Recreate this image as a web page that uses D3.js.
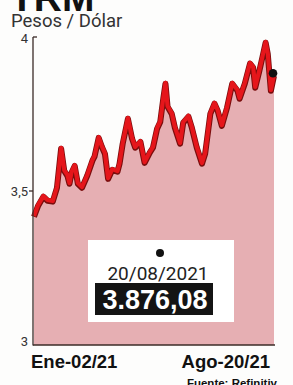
<!DOCTYPE html>
<html><head><meta charset="utf-8">
<script src="https://cdn.jsdelivr.net/npm/d3@7"></script>
<style>html,body{margin:0;padding:0;background:#fdfdfc;overflow:hidden}</style>
</head><body>
<svg id="c" width="293" height="385"></svg>
<script>
const fechas = ["2021-01-02","2021-01-06","2021-01-11","2021-01-15","2021-01-20","2021-01-24","2021-01-28","2021-01-31",
"2021-02-03","2021-02-05","2021-02-07","2021-02-10","2021-02-13","2021-02-17","2021-02-22","2021-02-27",
"2021-03-01","2021-03-05","2021-03-08","2021-03-11","2021-03-14","2021-03-18","2021-03-23","2021-03-25","2021-03-28",
"2021-04-02","2021-04-06","2021-04-09","2021-04-14","2021-04-18","2021-04-23","2021-04-26","2021-04-30",
"2021-05-03","2021-05-06","2021-05-08","2021-05-10","2021-05-14","2021-05-17","2021-05-22","2021-05-25","2021-05-30",
"2021-06-02","2021-06-07","2021-06-12","2021-06-15","2021-06-20","2021-06-24","2021-06-27",
"2021-07-01","2021-07-06","2021-07-11","2021-07-16","2021-07-18","2021-07-23","2021-07-28","2021-07-31",
"2021-08-02","2021-08-06","2021-08-09","2021-08-12","2021-08-14","2021-08-17","2021-08-20"];
const trm = [3.419,3.455,3.484,3.471,3.468,3.513,3.640,3.568,
3.552,3.526,3.562,3.584,3.526,3.513,3.552,3.601,
3.614,3.675,3.646,3.623,3.542,3.571,3.565,3.591,3.656,
3.737,3.672,3.643,3.662,3.594,3.627,3.643,3.705,
3.727,3.805,3.851,3.776,3.753,3.708,3.656,3.724,3.744,
3.711,3.643,3.591,3.623,3.753,3.786,3.763,
3.714,3.773,3.851,3.828,3.802,3.851,3.916,3.903,
3.838,3.893,3.938,3.984,3.948,3.828,3.876];
const yTicks = [3, 3.5, 4];
const yTickLabels = ["3", "3,5", "4"];
const xLabels = ["Ene-02/21", "Ago-20/21"];
const titulo = "TRM";
const subtitulo = "Pesos / Dólar";
const fechaFinal = "20/08/2021";
const valorFinal = "3.876,08";
const fuente = "Fuente: Refinitiv";

const parse = d3.timeParse("%Y-%m-%d");
const data = fechas.map((f,i)=>({d:parse(f), v:trm[i]}));

const svg = d3.select("#c");
const x = d3.scaleTime().domain([data[0].d, data[data.length-1].d]).range([34, 274]);
const y = d3.scaleLinear().domain([3, 4]).range([345, 37]);
const axisX = 33, rightX = 275;
const sans = "Roboto, 'Liberation Sans', Arial, sans-serif";
const bold = "'Liberation Sans', Arial, sans-serif";

// area
svg.append("path").datum(data)
  .attr("d", d3.area().x(d=>x(d.d)).y0(y(3)).y1(d=>y(d.v)))
  .attr("fill", "#e6afb3");

// line shadow + line
const line = d3.line().x(d=>x(d.d)).y(d=>y(d.v));
svg.append("path").datum(data).attr("d", line).attr("transform","translate(0,0.8)")
  .attr("fill","none").attr("stroke","#7a0d0d").attr("stroke-width",6).attr("stroke-linejoin","round");
svg.append("path").datum(data).attr("d", line)
  .attr("fill","none").attr("stroke","#e5161b").attr("stroke-width",4.2).attr("stroke-linejoin","round");

// axes
const ax = "#3b2b27";
svg.append("line").attr("x1",axisX).attr("x2",axisX).attr("y1",y(4)).attr("y2",y(3)+0.5).attr("stroke",ax).attr("stroke-width",1.3);
svg.append("line").attr("x1",axisX).attr("x2",rightX).attr("y1",y(3)).attr("y2",y(3)).attr("stroke",ax).attr("stroke-width",1.3);
svg.append("line").attr("x1",axisX).attr("x2",axisX+4).attr("y1",y(4)).attr("y2",y(4)).attr("stroke",ax).attr("stroke-width",1.3);
svg.append("line").attr("x1",axisX-4).attr("x2",axisX).attr("y1",y(3.5)).attr("y2",y(3.5)).attr("stroke",ax).attr("stroke-width",1.3);

svg.selectAll("text.yt").data(yTicks).join("text").attr("class","yt")
  .attr("x", axisX-5).attr("y", (d,i)=> i===2 ? y(d)+6 : (i===0 ? y(d)+1 : y(d)+5))
  .attr("text-anchor","end")
  .attr("font-family",sans).attr("font-size",13).attr("fill","#333")
  .text((d,i)=>yTickLabels[i]);

// end dot
const last = data[data.length-1];
svg.append("circle").attr("cx", x(last.d)-1).attr("cy", y(last.v)-2).attr("r",4.3).attr("fill","#111");

// annotation
svg.append("rect").attr("x",88).attr("y",240).attr("width",146).attr("height",82).attr("fill","#fff");
svg.append("circle").attr("cx",160).attr("cy",253).attr("r",4).attr("fill","#111");
svg.append("text").attr("x",158).attr("y",280).attr("text-anchor","middle")
  .attr("font-family",sans).attr("font-size",19).attr("fill","#222").text(fechaFinal);
svg.append("rect").attr("x",95).attr("y",283).attr("width",118).attr("height",32).attr("fill","#141414");
svg.append("text").attr("x",155).attr("y",309).attr("text-anchor","middle")
  .attr("font-family",bold).attr("font-weight","bold").attr("font-size",27).attr("fill","#fff").text(valorFinal);

// titles
svg.append("text").attr("x",10).attr("y",11)
  .attr("font-family",bold).attr("font-weight","bold").attr("font-size",39).attr("fill","#111").text(titulo);
svg.append("text").attr("x",11).attr("y",27)
  .attr("font-family",sans).attr("font-size",18.5).attr("fill","#333").text(subtitulo);

// x labels
svg.append("text").attr("x",31).attr("y",368)
  .attr("font-family",bold).attr("font-weight","bold").attr("font-size",18.5).attr("fill","#111").text(xLabels[0]);
svg.append("text").attr("x",270).attr("y",368).attr("text-anchor","end")
  .attr("font-family",bold).attr("font-weight","bold").attr("font-size",18.5).attr("fill","#111").text(xLabels[1]);
svg.append("text").attr("x",277).attr("y",387).attr("text-anchor","end")
  .attr("font-family",bold).attr("font-weight","bold").attr("font-size",11.5).attr("fill","#111").text(fuente);
</script>
</body></html>
